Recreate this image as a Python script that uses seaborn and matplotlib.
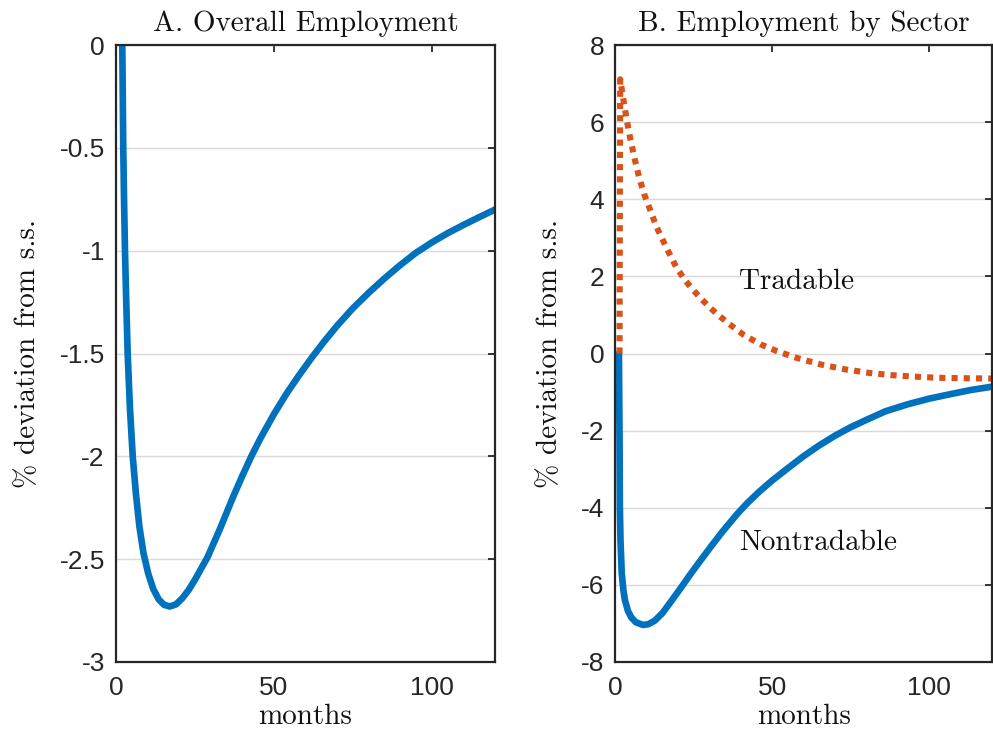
import matplotlib
matplotlib.use("Agg")
import matplotlib.pyplot as plt
import pandas as pd
import seaborn as sns

# ---------------- data ----------------
months_overall = [2, 2.15, 2.3, 2.55, 2.85, 3.2, 3.7, 4.4, 5.3, 6.3, 7.4, 8.7, 10.2, 11.8, 13.5,
                  15.2, 17, 19, 21, 23, 25, 27, 29, 31, 33, 35, 37, 40, 43, 46, 50, 54, 58, 62,
                  66, 70, 75, 80, 85, 90, 95, 100, 105, 110, 115, 120]
overall = [0, -0.25, -0.5, -0.75, -1.0, -1.22, -1.5, -1.76, -2.0, -2.18, -2.34, -2.47, -2.57,
           -2.645, -2.695, -2.722, -2.73, -2.72, -2.69, -2.65, -2.60, -2.545, -2.49, -2.42,
           -2.35, -2.275, -2.20, -2.095, -1.995, -1.905, -1.795, -1.695, -1.605, -1.52, -1.44,
           -1.365, -1.28, -1.205, -1.135, -1.07, -1.01, -0.96, -0.915, -0.875, -0.837, -0.80]

months_trad = [1.3, 1.5, 2.5, 3.5, 4.6, 6.2, 7.7, 9.3, 10.9, 13.0, 16.2, 19.3, 22.0, 24.6, 27.2,
               30, 32.0, 35.7, 40.9, 46.2, 51.5, 58.0, 65.7, 73.1, 80.5, 87.8, 95.2, 102.6, 110, 120]
tradable = [0, 7.11, 6.6, 6.1, 5.62, 5.02, 4.52, 4.1, 3.76, 3.3, 2.75, 2.25, 1.92, 1.66, 1.43,
            1.2, 1.05, 0.80, 0.48, 0.24, 0.06, -0.12, -0.29, -0.41, -0.50, -0.56, -0.60, -0.63,
            -0.64, -0.65]

months_nontrad = [1.1, 1.3, 1.4, 1.6, 2.0, 2.5, 3.0, 4.0, 5.1, 6.5, 8.8, 10.5, 12.5, 15, 17.8, 21,
                  24.1, 27, 30.4, 34, 38.8, 42, 46, 50, 55, 60, 65, 70, 75, 80, 86, 93, 100, 107,
                  113, 120]
nontradable = [0, -2.25, -3.97, -4.84, -5.70, -6.12, -6.39, -6.68, -6.85, -6.97, -7.04, -7.02,
               -6.93, -6.73, -6.42, -6.06, -5.70, -5.38, -5.01, -4.63, -4.16, -3.88, -3.57, -3.29,
               -2.97, -2.66, -2.38, -2.13, -1.91, -1.72, -1.50, -1.32, -1.17, -1.05, -0.95, -0.86]

titles = ["A. Overall Employment", "B. Employment by Sector"]
ylabel = "% deviation from s.s."
xlabel = "months"
series_labels = ["Tradable", "Nontradable"]

xticks = [0, 50, 100]
xtick_labels = ["0", "50", "100"]
yticks_A = [0, -0.5, -1, -1.5, -2, -2.5, -3]
ytick_labels_A = ["0", "-0.5", "-1", "-1.5", "-2", "-2.5", "-3"]
yticks_B = [8, 6, 4, 2, 0, -2, -4, -6, -8]
ytick_labels_B = ["8", "6", "4", "2", "0", "-2", "-4", "-6", "-8"]

# ---------------- style ----------------
sns.set_style("white")
plt.rcParams["axes.unicode_minus"] = False
plt.rcParams["font.family"] = ["Liberation Sans", "DejaVu Sans"]
SERIF = ["cmr10", "DejaVu Serif"]

BLUE = "#0072BD"
ORANGE = "#D95319"
AXC = "#262626"
TXT = "#111111"
FS = 21

fig = plt.figure(figsize=(9.93, 7.38), dpi=100)
axA = fig.add_axes([0.1168, 0.103, 0.3817, 0.836])
axB = fig.add_axes([0.6198, 0.103, 0.3792, 0.836])

dfA = pd.DataFrame({"month": months_overall, "value": overall})
dfT = pd.DataFrame({"month": months_trad, "value": tradable})
dfN = pd.DataFrame({"month": months_nontrad, "value": nontradable})

sns.lineplot(data=dfA, x="month", y="value", ax=axA, color=BLUE, linewidth=4.8,
             sort=False, estimator=None)
sns.lineplot(data=dfN, x="month", y="value", ax=axB, color=BLUE, linewidth=4.8,
             sort=False, estimator=None)
sns.lineplot(data=dfT, x="month", y="value", ax=axB, color=ORANGE, linewidth=4.4,
             sort=False, estimator=None, linestyle=(0, (1, 1)))
for ax in (axA, axB):
    for ln in ax.get_lines():
        ln.set_dash_capstyle("butt")
        ln.set_solid_joinstyle("round")

axB.text(39.5, 1.85, series_labels[0], fontsize=FS, family=SERIF, ha="left", va="center", color=TXT)
axB.text(39.5, -4.9, series_labels[1], fontsize=FS, family=SERIF, ha="left", va="center", color=TXT)

for ax, title, yt, ytl, ylim in [
    (axA, titles[0], yticks_A, ytick_labels_A, (-3, 0)),
    (axB, titles[1], yticks_B, ytick_labels_B, (-8, 8)),
]:
    ax.set_xlim(0, 120)
    ax.set_ylim(*ylim)
    ax.set_xticks(xticks)
    ax.set_xticklabels(xtick_labels)
    ax.set_yticks(yt)
    ax.set_yticklabels(ytl)
    ax.yaxis.grid(True, color="#d9d9d9", linewidth=1.0)
    ax.xaxis.grid(False)
    ax.set_axisbelow(True)
    ax.tick_params(direction="in", length=5, width=1.3, colors=AXC, labelsize=19,
                   top=True, right=True, pad=8)
    ax.tick_params(axis="x", pad=10)
    for sp in ax.spines.values():
        sp.set_visible(True)
        sp.set_color(AXC)
        sp.set_linewidth(1.6)
    ax.set_title(title, fontsize=FS, family=SERIF, color=TXT, pad=10)
    ax.set_xlabel(xlabel, fontsize=FS, family=SERIF, color=TXT, labelpad=3)
    ax.set_ylabel(ylabel, fontsize=FS, family=SERIF, color=TXT, labelpad=13)

fig.savefig("out.png", dpi=100)
